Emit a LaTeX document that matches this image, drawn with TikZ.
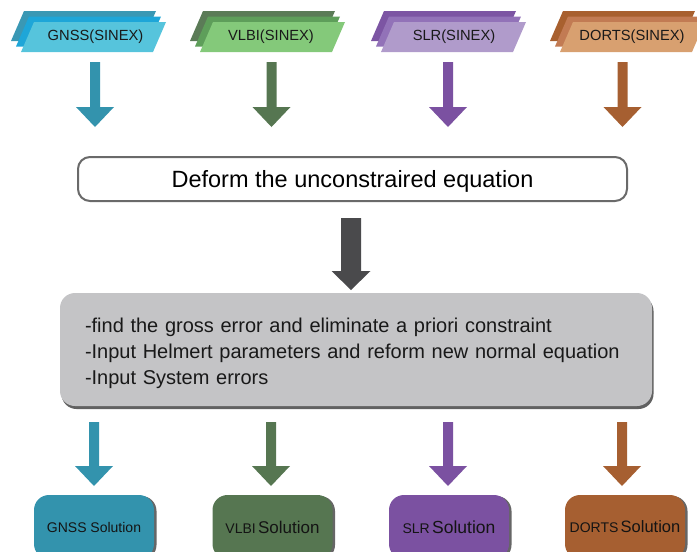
\documentclass[tikz,border=0pt]{standalone}
\usepackage{fontspec}
\setmainfont{Liberation Sans}
\usetikzlibrary{calc,shadows}
\definecolor{gnssA}{HTML}{3A98B4}
\definecolor{gnssB}{HTML}{1EA6D8}
\definecolor{gnssC}{HTML}{56C4DC}
\definecolor{vlbiA}{HTML}{5B7B57}
\definecolor{vlbiB}{HTML}{5E9E5A}
\definecolor{vlbiC}{HTML}{84C97A}
\definecolor{slrA}{HTML}{7C55A3}
\definecolor{slrB}{HTML}{9272B8}
\definecolor{slrC}{HTML}{B09BCB}
\definecolor{dorA}{HTML}{A8602F}
\definecolor{dorB}{HTML}{C27B53}
\definecolor{dorC}{HTML}{D8A070}
\definecolor{gnssD}{HTML}{3393AD}
\definecolor{vlbiD}{HTML}{567651}
\definecolor{slrD}{HTML}{7B51A1}
\definecolor{dorD}{HTML}{A65F31}
\definecolor{darkarr}{HTML}{4A4A4C}
\definecolor{procfill}{HTML}{C4C4C6}
\definecolor{deformline}{HTML}{6A6A6A}
\newcommand{\blockarr}[6]{%
  \fill[#3] ($(#1)+(-#4,0)$) -- ($(#2)+(-#4,-#6)$) -- ($(#2)+(-#5,-#6)$) -- (#2)
    -- ($(#2)+(#5,-#6)$) -- ($(#2)+(#4,-#6)$) -- ($(#1)+(#4,0)$) -- cycle;}
\newcommand{\paral}[3]{%
  \fill[#3] (#1,#2) -- ++(132,0) -- ++(13,-30) -- ++(-132,0) -- cycle;}
\newcommand{\stackof}[4]{% x, back, middle, front colours
  \paral{#1-10}{41}{#2}\paral{#1-5}{46.5}{#3}\paral{#1}{52}{#4}}
\tikzset{
  toplabel/.style={font=\fontsize{14.7}{17}\selectfont, text=black!90, inner sep=0pt},
  deformbox/.style={draw=deformline, line width=2pt, fill=white, rounded corners=12pt,
    minimum width=549pt, minimum height=44pt, inner sep=0pt,
    text height=18pt, text depth=2pt,
    font=\fontsize{23.5}{27}\selectfont},
  procbox/.style={fill=procfill, rounded corners=15pt, minimum width=592pt,
    minimum height=113pt, inner xsep=25pt, inner ysep=0pt, text width=542pt,
    text depth=48pt,
    align=left, font=\fontsize{20}{26}\selectfont, text=black!90,
    drop shadow={shadow xshift=1.5pt, shadow yshift=-3pt, fill=black!62, opacity=1}},
  solbox/.style={fill=#1, rounded corners=15pt, minimum width=120pt,
    minimum height=64pt, inner sep=0pt, text=black!92,
    drop shadow={shadow xshift=2.5pt, shadow yshift=-1pt, fill=black!60, opacity=1}},
  small/.style={font=\fontsize{14}{16}\selectfont},
}
\newcommand{\sm}{\fontsize{14}{16}\selectfont}
\newcommand{\bg}{\fontsize{17}{19}\selectfont}
\begin{document}
\begin{tikzpicture}[x=1pt,y=-1pt]
\useasboundingbox (0,0) rectangle (697,552);
\clip (0,0) rectangle (697,552);
% top stacks
\stackof{21}{gnssA}{gnssB}{gnssC}
\stackof{200}{vlbiA}{vlbiB}{vlbiC}
\stackof{381}{slrA}{slrB}{slrC}
\stackof{560}{dorA}{dorB}{dorC}
\node[toplabel] (gnss) at (95.5,37) {GNSS(SINEX)};
\node[toplabel] (vlbi) at (271,37) {VLBI(SINEX)};
\node[toplabel] (slr) at (454,37) {SLR(SINEX)};
\node[toplabel] (dorts) at (632,37) {DORTS(SINEX)};
% top arrows
\coordinate (ga1) at (95,62);   \coordinate (ga2) at (95,127);
\coordinate (va1) at (271.5,62); \coordinate (va2) at (271.5,127);
\coordinate (sa1) at (448,62);  \coordinate (sa2) at (448,127);
\coordinate (da1) at (622.5,62); \coordinate (da2) at (622.5,127);
\blockarr{ga1}{ga2}{gnssD}{5}{19}{20}
\blockarr{va1}{va2}{vlbiD}{5}{19}{20}
\blockarr{sa1}{sa2}{slrD}{5}{19}{20}
\blockarr{da1}{da2}{dorD}{5}{19}{20}
% deform box
\node[deformbox] (deform) at (352.5,179) {Deform the unconstraired equation};
% middle arrow
\coordinate (ma1) at (351,218); \coordinate (ma2) at (351,290);
\blockarr{ma1}{ma2}{darkarr}{10}{19.5}{19}
% process box
\node[procbox] (proc) at (356,349.5) {-find the gross error and eliminate a priori constraint\\
-Input Helmert parameters and reform new normal equation\\
-Input System errors};
% bottom arrows
\coordinate (gb1) at (94,422);  \coordinate (gb2) at (94,486);
\coordinate (vb1) at (271,422); \coordinate (vb2) at (271,486);
\coordinate (sb1) at (448,422); \coordinate (sb2) at (448,486);
\coordinate (db1) at (622,422); \coordinate (db2) at (622,486);
\blockarr{gb1}{gb2}{gnssD}{5}{19}{20}
\blockarr{vb1}{vb2}{vlbiD}{5}{19}{20}
\blockarr{sb1}{sb2}{slrD}{5}{19}{20}
\blockarr{db1}{db2}{dorD}{5}{19}{20}
% solutions
\node[solbox=gnssD, small] (gsol) at (94,527) {GNSS Solution};
\node[solbox=vlbiD] (vsol) at (272.5,527) {\sm VLBI\,\bg Solution};
\node[solbox=slrD] (ssol) at (449,527) {\sm SLR\,\fontsize{17.5}{19}\selectfont Solution};
\node[solbox=dorD] (dsol) at (625,527) {\sm DORTS\,\fontsize{16.5}{19}\selectfont Solution};
\end{tikzpicture}
\end{document}
